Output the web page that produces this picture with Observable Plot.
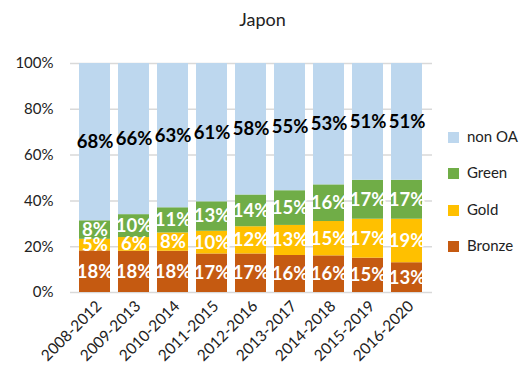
<!DOCTYPE html>
<html><head><meta charset="utf-8">
<script src="https://cdn.jsdelivr.net/npm/d3@7"></script>
<script src="https://cdn.jsdelivr.net/npm/@observablehq/plot@0.6"></script>
<style>
body{margin:0;background:#fff;font-family:Lato,"Open Sans",sans-serif;}
#wrap{position:relative;width:525px;height:372px;}
#title{position:absolute;left:0;top:8px;width:525px;text-align:center;font-size:18px;color:#222;}
#chart{position:absolute;left:0;top:40px;}
#legend{position:absolute;left:448px;top:131px;font-size:15px;color:#222;}
.item{position:absolute;left:0;height:16px;white-space:nowrap;}
.sw{position:absolute;left:0;top:1px;width:11px;height:11px;}
.lb{position:absolute;left:19px;top:-4px;}
</style></head>
<body><div id="wrap"><div id="title">Japon</div><div id="chart"></div><div id="legend"></div></div>
<script>
const periods = ["2008-2012","2009-2013","2010-2014","2011-2015","2012-2016","2013-2017","2014-2018","2015-2019","2016-2020"];
const seriesNames = ["Bronze","Gold","Green","non OA"];
const bronze = [18,18,18,17,17,16,16,15,13];
const gold   = [5,6,8,10,12,13,15,17,19];
const green  = [8,10,11,13,14,15,16,17,17];
const nonOA  = [68,66,63,61,58,55,53,51,51];
const colors = ["#C55A11","#FFC000","#70AD47","#BDD7EE"];
const yTicks = [0,20,40,60,80,100];

const cols = [bronze, gold, green, nonOA];
const data = [];
periods.forEach((p,i)=>seriesNames.forEach((s,j)=>data.push({period:p, series:s, value:cols[j][i]})));

const chart = Plot.plot({
  width:525, height:332,
  marginTop:23, marginBottom:80, marginLeft:70, marginRight:93,
  style:{fontFamily:"Lato, 'Open Sans', sans-serif", fontSize:"15px", color:"#222"},
  x:{domain:periods, padding:0.2, label:null, tickRotate:-45, tickSize:0, tickPadding:5},
  y:{domain:[0,100], percent:true, ticks:yTicks, tickFormat:d=>d+"%", label:null, tickSize:0, tickPadding:17},
  color:{domain:seriesNames, range:colors},
  marks:[
    Plot.ruleY(yTicks, {y:d=>d/100, stroke:"#d9d9d9", strokeWidth:1.5}),
    Plot.barY(data, Plot.stackY({x:"period", y:"value", fill:"series", order:seriesNames, offset:"normalize"})),
    Plot.text(data, Plot.stackY({x:"period", y:"value", z:"series", order:seriesNames, offset:"normalize",
      text:d=>d.value+"%", fill:d=>d.series==="non OA"?"#000":"#fff",
      fontWeight:"bold", fontSize:18.5}))
  ]
});
const xg = chart.querySelector('[aria-label="x-axis tick label"]');
if (xg) {
  xg.querySelectorAll('text').forEach(t=>t.style.fontSize="15.5px");
  xg.setAttribute("transform", (xg.getAttribute("transform")||"") + " translate(4,6)");
}
document.getElementById("chart").appendChild(chart);

const leg = document.getElementById("legend");
const order = ["non OA","Green","Gold","Bronze"];
order.forEach((s,k)=>{
  const it=document.createElement("div");it.className="item";it.style.top=(k*36.3)+"px";
  const sw=document.createElement("div");sw.className="sw";sw.style.background=colors[seriesNames.indexOf(s)];
  const lb=document.createElement("div");lb.className="lb";lb.textContent=s;
  it.appendChild(sw);it.appendChild(lb);leg.appendChild(it);
});
</script></body></html>
